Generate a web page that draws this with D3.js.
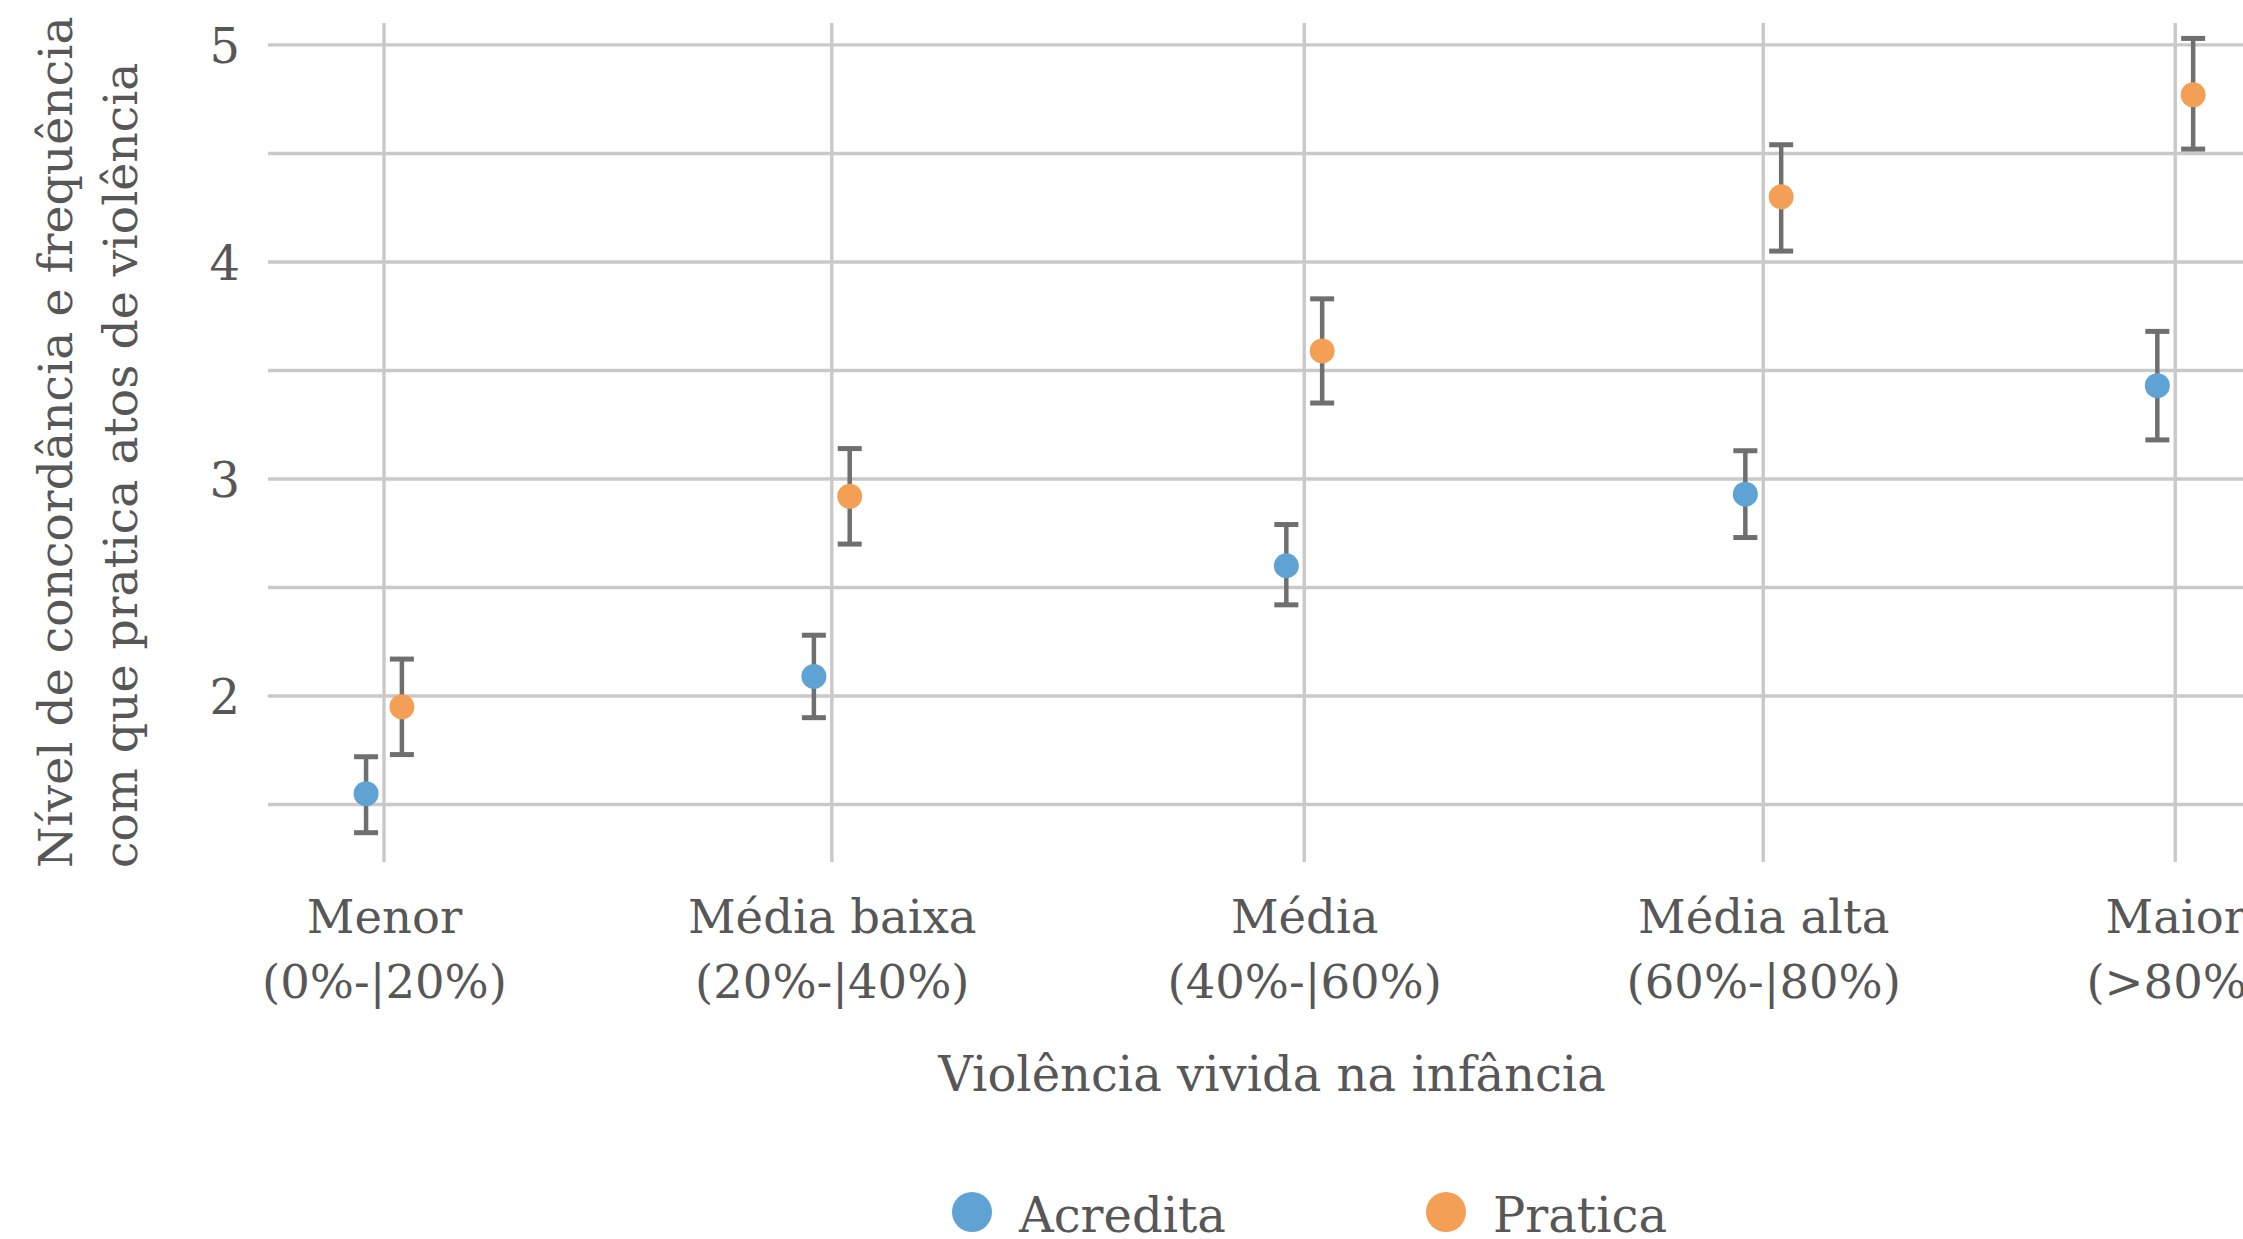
<!DOCTYPE html>
<html lang="pt">
<head>
<meta charset="utf-8">
<script src="https://cdn.jsdelivr.net/npm/d3@7"></script>
<style>
  html, body { margin: 0; padding: 0; background: #ffffff; overflow: hidden; }
  svg { display: block; font-family: "DejaVu Serif", "Liberation Serif", serif; }
</style>
</head>
<body>
<svg id="chart" width="2243" height="1239"></svg>
<script>
// Grupos de violência vivida na infância
const catNome  = ["Menor", "Média baixa", "Média", "Média alta", "Maior"];
const catFaixa = ["(0%-|20%)", "(20%-|40%)", "(40%-|60%)", "(60%-|80%)", "(>80%)"];
// Posição de cada grupo no eixo (média da faixa, %)
const mediaGrupo = [10, 30, 51.1, 71.6, 90];

// Acredita: média e intervalo
const acreditaMedia = [1.55, 2.09, 2.60, 2.93, 3.43];
const acreditaInf   = [1.37, 1.90, 2.42, 2.73, 3.18];
const acreditaSup   = [1.72, 2.28, 2.79, 3.13, 3.68];

// Pratica: média e intervalo
const praticaMedia = [1.95, 2.92, 3.59, 4.30, 4.77];
const praticaInf   = [1.73, 2.70, 3.35, 4.05, 4.52];
const praticaSup   = [2.17, 3.14, 3.83, 4.54, 5.03];

const yTicks = [2, 3, 4, 5];
const yMinor = [1.5, 2.5, 3.5, 4.5];

const series = [
  { nome: "Acredita", cor: "#5fa2d4", media: acreditaMedia, inf: acreditaInf, sup: acreditaSup, dodge: -0.8 },
  { nome: "Pratica",  cor: "#f39f56", media: praticaMedia,  inf: praticaInf,  sup: praticaSup,  dodge:  0.8 }
];

const textColor = "#575757";
const gridColor = "#c9c9c9";
const barColor  = "#6f6f6f";

const svg = d3.select("#chart");

const panel = { left: 268, right: 2276, top: 23, bottom: 862 };

const x = d3.scaleLinear().domain([4.82, 94.5]).range([panel.left, panel.right]);
const y = d3.scaleLinear().domain([1.235, 5.101]).range([panel.bottom, panel.top]);

const grid = svg.append("g");

// horizontal grid (major + minor)
grid.selectAll("line.h")
  .data(yMinor.concat(yTicks))
  .join("line")
  .attr("x1", panel.left).attr("x2", panel.right)
  .attr("y1", d => y(d)).attr("y2", d => y(d))
  .attr("stroke", gridColor).attr("stroke-width", 3.4);

// vertical grid at each group
grid.selectAll("line.v")
  .data(mediaGrupo)
  .join("line")
  .attr("x1", d => x(d)).attr("x2", d => x(d))
  .attr("y1", panel.top).attr("y2", panel.bottom)
  .attr("stroke", gridColor).attr("stroke-width", 3.4);

// y axis labels
const yAxis = d3.axisLeft(y).tickValues(yTicks).tickSize(0).tickPadding(0).tickFormat(d3.format("d"));
const yG = svg.append("g").attr("transform", `translate(${240},0)`).call(yAxis);
yG.select(".domain").remove();
yG.selectAll("text")
  .attr("fill", textColor)
  .attr("font-size", 48)
  .attr("font-family", "DejaVu Serif, serif")
  .attr("dy", "0.36em");

// x axis labels (two lines)
const xAxis = d3.axisBottom(x).tickValues(mediaGrupo).tickSize(0).tickFormat(() => "");
const xG = svg.append("g").attr("transform", `translate(0,${panel.bottom})`).call(xAxis);
xG.select(".domain").remove();
xG.selectAll(".tick").each(function(d, i) {
  const t = d3.select(this).select("text")
    .attr("fill", textColor).attr("font-size", 46.5)
    .attr("font-family", "DejaVu Serif, serif")
    .attr("text-anchor", "middle").attr("y", 0).attr("dy", null);
  t.append("tspan").attr("x", 0).attr("y", 71).text(catNome[i]);
  t.append("tspan").attr("x", 0).attr("y", 136).text(catFaixa[i]);
});

// error bars and points
const capHalf = 12;
series.forEach(s => {
  const g = svg.append("g");
  const rows = mediaGrupo.map((m, i) => ({ cx: x(m + s.dodge), m: s.media[i], lo: s.inf[i], hi: s.sup[i] }));
  g.selectAll("line.bar").data(rows).join("line")
    .attr("x1", d => d.cx).attr("x2", d => d.cx)
    .attr("y1", d => y(d.lo)).attr("y2", d => y(d.hi))
    .attr("stroke", barColor).attr("stroke-width", 4.5);
  g.selectAll("line.capHi").data(rows).join("line")
    .attr("x1", d => d.cx - capHalf).attr("x2", d => d.cx + capHalf)
    .attr("y1", d => y(d.hi)).attr("y2", d => y(d.hi))
    .attr("stroke", barColor).attr("stroke-width", 5);
  g.selectAll("line.capLo").data(rows).join("line")
    .attr("x1", d => d.cx - capHalf).attr("x2", d => d.cx + capHalf)
    .attr("y1", d => y(d.lo)).attr("y2", d => y(d.lo))
    .attr("stroke", barColor).attr("stroke-width", 5);
  g.selectAll("circle").data(rows).join("circle")
    .attr("cx", d => d.cx).attr("cy", d => y(d.m)).attr("r", 12.5)
    .attr("fill", s.cor);
});

// axis titles
svg.append("text")
  .attr("x", (panel.left + panel.right) / 2).attr("y", 1091)
  .attr("text-anchor", "middle").attr("fill", textColor).attr("font-size", 48)
  .text("Violência vivida na infância");

const yTitle = ["Nível de concordância e frequência", "com que pratica atos de violência"];
const yTitleX = [72, 137];
yTitle.forEach((t, i) => {
  svg.append("text")
    .attr("transform", `translate(${yTitleX[i]},868) rotate(-90)`)
    .attr("text-anchor", "start").attr("fill", textColor).attr("font-size", 47.3)
    .text(t);
});

// legend
const legX = [972, 1446];
const leg = svg.append("g");
series.forEach((s, i) => {
  leg.append("circle").attr("cx", legX[i]).attr("cy", 1212).attr("r", 20).attr("fill", s.cor);
  leg.append("text").attr("x", legX[i] + 47).attr("y", 1232)
    .attr("fill", textColor).attr("font-size", 48).text(s.nome);
});
</script>
</body>
</html>
